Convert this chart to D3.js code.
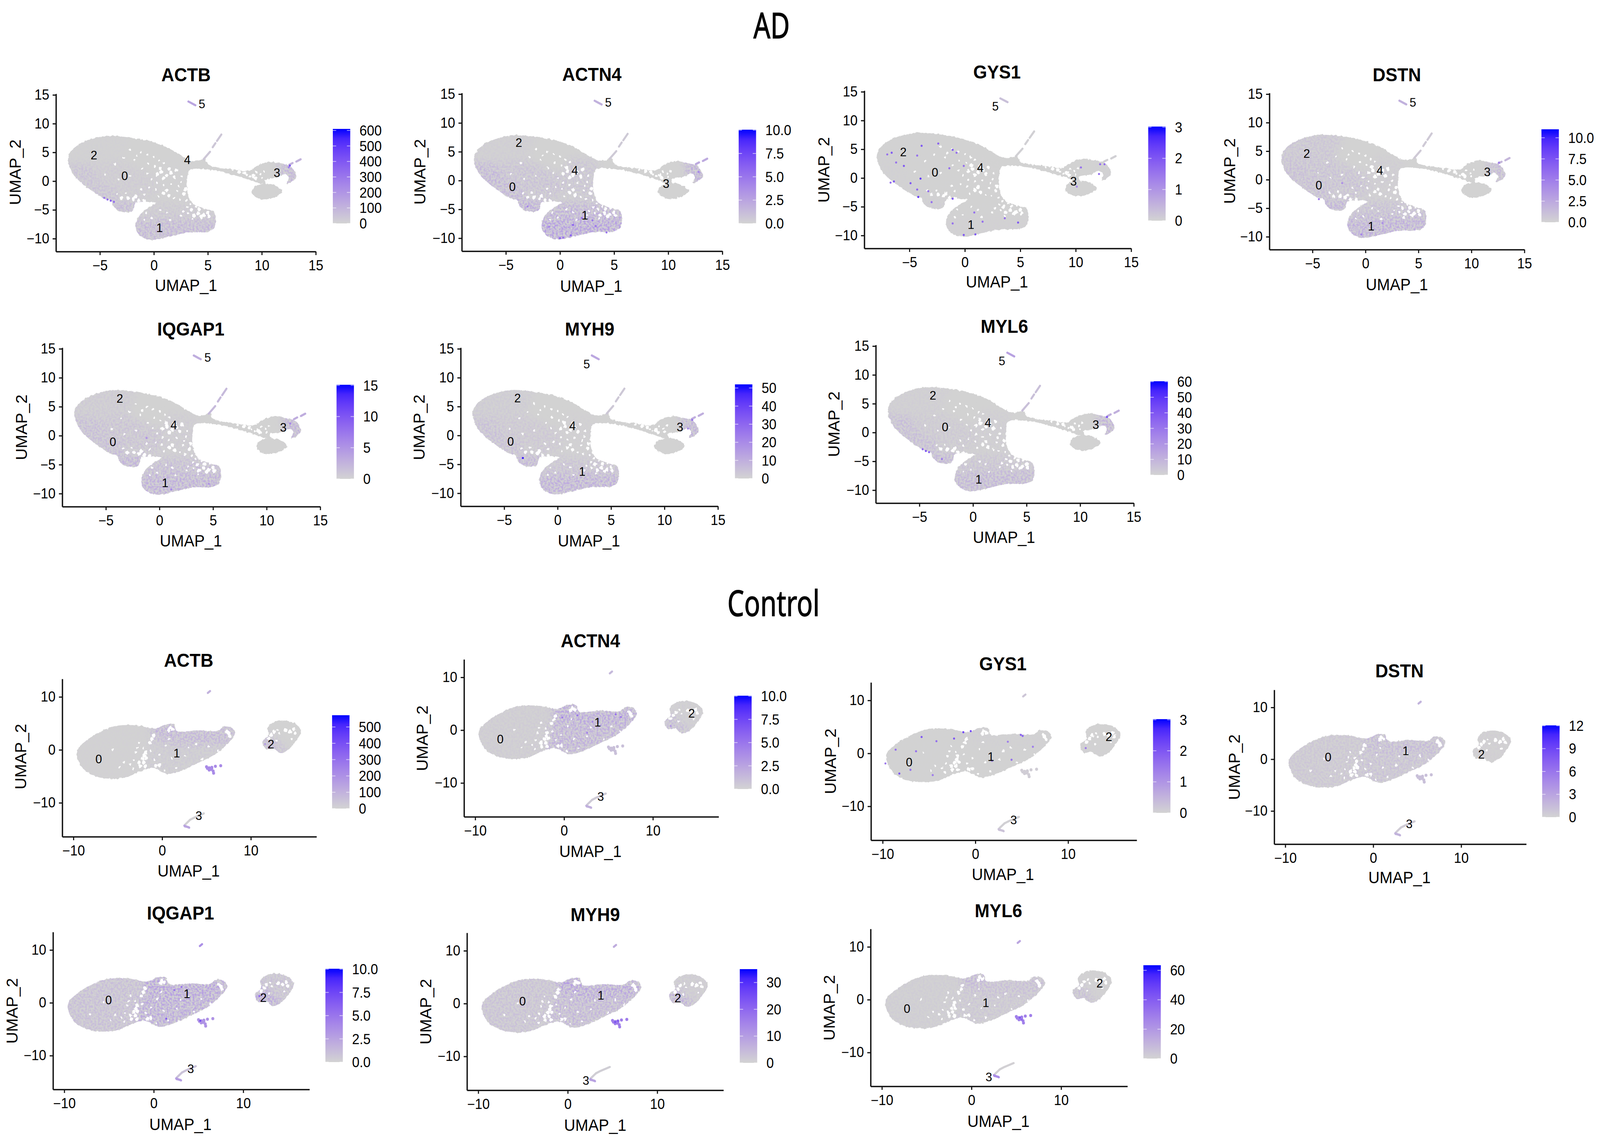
<!DOCTYPE html>
<html>
<head>
<meta charset="utf-8">
<script src="https://cdn.jsdelivr.net/npm/d3@7"></script>
<style>
  html, body { margin: 0; height: 100%; overflow: hidden; background: #fff; }
  #visualization { width: 100vw; height: 100vh; }
  svg { display: block; }
  text { font-family: "Liberation Sans", Arial, sans-serif; fill: #000; }
</style>
</head>
<body>
<div id="visualization"></div>
<script>
// ---------- data (UMAP units) ----------

const adXTicks = [-5, 0, 5, 10, 15];
const adYTicks = [-10, -5, 0, 5, 10, 15];
const adXDomain = [-9.07, 15.0];
const adYDomain = [-12.25, 15.2];
const ctrlXTicks = [-10, 0, 10];
const ctrlYTicks = [-10, 0, 10];
const ctrlXDomain = [-11.26, 17.4];
const ctrlYDomain = [-16.4, 13.4];

// main outline of the AD embedding
const adBody = [[-7.95,3.6],[-7.8,4.8],[-7.1,6.2],[-5.8,7.3],[-4.4,7.85],[-2.7,7.7],[-1,7.2],[0.4,6.5],[1.6,5.5],[2.6,4.35],
  [3.55,3.5],[4.3,3.6],[4.7,4.0],[5,2.9],[7.4,2.05],[8.85,1.8],[9.2,2.2],[9.8,2.9],[10.8,3.35],[11.75,3.05],[12.7,2.5],
  [13.2,0.8],[12.9,0.1],[12.3,-0.4],[12.5,0.6],[12.2,1.2],[11.3,0.6],[10.3,0.2],[10.4,-0.5],[9.8,-0.4],[8.9,0.2],
  [7.4,1.05],[5.5,1.9],[3.3,1.9],[3.1,0.5],[3.1,-1.8],[3.55,-3.8],[4.75,-4.8],[5.6,-5.4],[5.6,-8.1],[5,-8.8],[3.1,-8.95],
  [1.4,-9.65],[-0.3,-10.2],[-1.25,-9.5],[-1.7,-8.1],[-1.4,-6.1],[-0.5,-4.65],[0.2,-3.8],[-1.25,-3.65],[-1.7,-3.8],[-2,-5.2],
  [-3.2,-5.2],[-3.8,-4.2],[-3.9,-3.5],[-4.6,-3.05],[-6.1,-1.2],[-7.3,0.77],[-7.75,2.2]];
const adEllipse = [[9.05,-1.9],[9.3,-1],[9.9,-0.55],[10.7,-0.5],[11.4,-0.9],[11.9,-1.8],[11.4,-2.6],[10.4,-3.15],[9.5,-2.85]];

// gaps between the cells
const adHoles = [[0.3,1.2],[0.7,1.6],[1.2,1.0],[1.6,1.5],[1.9,0.7],[0.9,0.5],[1.4,2.1],[0.6,2.2],[2.1,1.9],[1.2,-1.6],[0.9,-2.1],
  [1.4,-2.5],[2.9,-1.4],[2.8,-2.2],[-1.9,-3.1],[-2.4,-2.9],[-1.4,-3.4],[-3,-2.9],[-0.9,-3.5],[-1.7,-2.7],[4.1,-5.6],[4.6,-5.9],
  [5.0,-5.5],[4.4,-6.2],[5.1,-6.1],[3.7,-6.0],[3.5,-5.0],[4.2,-4.9],[9.2,0.9],[9.4,0.5],[8.4,1.4],[7.9,1.6]];
const adSpeckles = [[-1.2,5.0],[-0.6,4.6],[0,4.2],[0.5,3.6],[0.9,3.2],[-1.8,3.6],[-0.5,3.1],[0.1,2.6],[-1.1,2.2],[-0.6,1.3],[-0.2,0.4],
  [0.3,-0.3],[0.9,-0.7],[1.6,-0.4],[2.3,-0.9],[-0.4,-1.1],[0.2,-1.5],[-0.9,-2.3],[0.4,-2.7],[1.9,-2.9],[2.2,-1.7],[2.5,-0.2],[2.6,0.8],
  [2.4,-3.2],[3,-3.4],[3.4,-4],[3.8,-3.9],[3.1,-4.6],[3.9,-4.4],[4.7,-4.8],[2.7,-5.3],[3.2,-5.6],[2.5,-6],[3.6,-6.6],[-3.6,3],[-2.8,4.1],
  [-2.2,5.5],[-1.6,4.4],[-4.5,1.2],[-3.3,0.3],[-2.2,0.9],[1.5,-6.8],[-0.7,-5.5],[-0.2,-6.4],[-0.9,-6.8],[0.6,-5],[1.2,-5.5],[6.8,2.3],
  [7.3,1.9],[8.2,1.9],[8.6,1.1],[9.5,1.6],[8.9,0.8],[9.9,1.2],[10,0.6],[10.2,1.7],[-2.6,-2.1],[-3.4,-2.2],[-1.2,-1.4],[11.9,0.4],[-4.1,-3.4]];

// tint regions of the AD embedding; the level lists below follow this order
const adRegionShapes = [
  [[-8.4,3.2],[-7.4,-0.3],[-5.4,-3],[-3.8,-3.8],[-3,-2],[-5,0],[-6,3]],                       // left rim
  [[-4.3,-3.4],[-1.3,-3.4],[-1.3,-5.8],[-4.3,-5.8]],                                           // small lobe
  [[-6,3],[-5,0],[-3,-2],[-1,-3.5],[0.5,-2],[0,1],[-3,3.5]],                                   // middle of 0
  [[-2.2,-6.8],[-2.2,-10.8],[6.2,-10.4],[6.2,-6.6],[2,-6.6]],                                  // lower band of 1
  [[-1.8,-6.8],[0,-3.6],[3.2,-3.9],[6,-5],[6.2,-6.6],[2,-6.6]],                                // upper part of 1
  [[11.4,3.6],[13.7,3.6],[13.7,-0.8],[11.8,-0.8],[11.7,1.5]],                                  // right tip of 3
  [[-8.4,3.2],[-6,3],[-3,3.5],[-2,8.4],[-8.4,8.4]],                                            // upper part of 2
  [[0,1],[0.5,-2],[3.4,-3.8],[3.6,3.4],[1,4.2]]                                                // centre near 4
];
// thin strands: points, then index of the level they take
const adStrands = [
  [[[4.6,3.8],[5.2,5.1]], 8], [[[5.45,5.9],[5.7,6.6]], 8], [[[5.85,7.0],[6.25,8.1]], 8],
  [[[12.55,2.85],[12.85,3.15]], 5], [[[13.2,3.4],[13.6,3.8]], 5],
  [[[3.2,13.85],[3.85,13.2]], 9]
];

// levels: left rim, lobe, middle, lower band, upper 1, tip 3, upper 2, centre, branch, cluster 5
const adActbLevels = [60, 90, 28, 100, 36, 100, 10, 8, 40, 150];
const adActn4Levels = [1.7, 2.4, 1.0, 2.9, 1.9, 2.2, 0.3, 0.8, 0.5, 1.8];
const adGys1Levels = [0.05, 0.08, 0.02, 0.04, 0.02, 0.05, 0.02, 0.01, 0.05, 0.3];
const adDstnLevels = [1.4, 2.1, 1.1, 2.3, 1.3, 1.6, 0.9, 0.4, 0.5, 2];
const adIqgap1Levels = [2.0, 3.0, 1.4, 3.0, 2.0, 3.0, 0.8, 0.6, 2, 3];
const adMyh9Levels = [6, 9, 3.5, 11, 5, 10, 2.5, 1, 3, 12];
const adMyl6Levels = [8, 10, 3.5, 10, 5, 11, 2, 2, 6, 16];

// single bright cells: x, y, value
const adActbCells = [[-4.6,-2.9,300],[-4.3,-3.2,340],[-4,-3.4,380],[-3.7,-3.6,330],[12.6,2.7,420],[12.5,2.4,260]];
const adActn4Cells = [[0,-10,6],[1.2,-7.7,6],[3.3,-7.9,5],[3,-6.9,5],[2,-6.5,5],[1,-9.5,6],[0.3,-9.9,5],[-3,-4.5,4],[4.3,-9,5],[12.8,1.5,4],[-1,-8,4]];
const adGys1Cells = [[-3.9,5.6,2],[-1.1,4.9,2],[-2.4,6,1.8],[-6.6,4.4,2],[-7,4.1,1.6],[-4.3,3.9,1.6],[-5.5,2.1,2],[-6.2,2.7,1.6],[-4,-0.1,2.4],
  [-6.4,-0.6,2],[-6.7,-0.8,1.6],[-4.9,-0.9,2],[-3.3,-2.3,1.6],[-4.2,-3.3,2.4],[-4.3,-2,1.8],[-3,-4.2,1.6],[-1.1,-3.6,2],[0.85,-6,1.6],[-1.1,-7.9,1.6],
  [-0.1,-9.9,2],[0.95,-9.8,2],[1.6,-7.6,1.6],[-1.4,1.7,1.6],[-0.1,2.1,1.6],[-0.75,4.4,1.6],[4.8,-7.75,2],[3.6,-7,1.6],[10.47,1.84,1.6],[12.2,2.4,1.6],
  [12.6,2.4,1.6],[12.1,0.7,1.6],[10.1,-1.5,1.2]];
const adDstnCells = [[-4.4,-3.4,5],[-2.2,-0.6,4],[1.6,-7.6,4],[-0.4,-9.6,4.5],[12.6,3,5]];
const adIqgap1Cells = [[-1.2,-0.4,5],[1.1,-9.3,6],[4.6,-8.3,5],[12.2,2.1,6]];
const adMyh9Cells = [[-3.25,-3.9,48],[12.6,2.7,26],[12.2,1.2,20]];
const adMyl6Cells = [[-4.7,-2.9,34],[-4.4,-3.2,40],[-4.1,-3.4,36],[12.5,2.7,42],[-2.9,-4.6,28]];

// cluster labels: x, y, text
const adActbLabels = [[-5.55,4.6,"2"],[-2.7,1.0,"0"],[3.1,3.75,"4"],[11.4,1.5,"3"],[0.53,-8.1,"1"],[4.45,13.5,"5"]];
const adActn4Labels = [[-3.8,6.6,"2"],[-4.4,-1,"0"],[1.37,1.8,"4"],[9.8,-0.5,"3"],[2.3,-6,"1"],[4.46,13.6,"5"]];
const adGys1Labels = [[-5.55,4.6,"2"],[-2.7,1.03,"0"],[1.4,1.86,"4"],[9.8,-0.55,"3"],[0.55,-8.1,"1"],[2.75,12.55,"5"]];
const adDstnLabels = [[-5.55,4.6,"2"],[-4.4,-0.95,"0"],[1.36,1.7,"4"],[11.5,1.43,"3"],[0.54,-8.1,"1"],[4.47,13.57,"5"]];
const adIqgap1Labels = [[-3.7,6.47,"2"],[-4.35,-1.03,"0"],[1.34,1.9,"4"],[11.55,1.47,"3"],[0.53,-8.1,"1"],[4.5,13.55,"5"]];
const adMyh9Labels = [[-3.75,6.5,"2"],[-4.4,-1,"0"],[1.4,1.7,"4"],[11.45,1.5,"3"],[2.3,-6.2,"1"],[2.72,12.4,"5"]];
const adMyl6Labels = [[-3.74,6.5,"2"],[-2.6,1,"0"],[1.4,1.78,"4"],[11.46,1.44,"3"],[0.53,-8.08,"1"],[2.7,12.47,"5"]];

// outline of the control embedding
const ctrlBody = [[-9.6,-1.1],[-9.5,0.15],[-8.6,1.7],[-7.15,3.25],[-5.4,4.45],[-3.05,4.65],[-0.7,4.05],[0.45,4.8],[1.35,4.75],[1.65,3.55],
  [4,3.7],[6.3,3.6],[6.9,4.35],[7.8,4.2],[8.2,3.1],[7.5,1.4],[6,-0.8],[4,-2.5],[2.2,-3.9],[0.6,-4.55],[-1,-3.4],[-2.75,-4.2],[-3.9,-5.1],
  [-5.7,-5.45],[-7.45,-5],[-8.9,-3.55]];
const ctrlBlob = [[11.9,4.2],[12.75,5.3],[13.95,5.5],[15.1,4.8],[15.65,3.55],[15.1,1.7],[14.2,0],[13.35,-0.6],[12.5,0.3],[11.75,0.15],[11.3,1.55],[12,2.8]];

const ctrlHoles = [[-2,-1.1],[-1.9,-0.5],[-2.2,-1.7],[-1.8,-1.6],[-2.6,-2.4],[-2.1,-2.4],[-1.9,-3.1],[-2.5,-3.1],[-0.7,-3],[-0.3,-2.9],[-1.15,2],[-1.4,1.3],
  [-1.0,2.7],[0.75,3.7],[1.2,3.9],[0.9,4.2],[7.5,3.1],[7.6,2.65],[7.3,3.5],[12.3,2.8],[12.0,2.2],[12.6,3.4],[13.9,3.7],[14.8,3.9],[14.4,3.4],[15,3.2]];
const ctrlSpeckles = [[-3.2,-1.9],[-3.6,-2.8],[-4.3,-2.3],[-3,-0.5],[-3.3,-3.6],[-2.8,0.4],[-4.8,-3.3],[-1.3,-0.2],[-0.9,-1.9],[-0.3,-0.9],[0.3,-3.9],[1.6,-3.4],
  [1.1,-1.6],[0.4,0.8],[2.6,-1.1],[3,0.5],[0.8,2.1],[3.8,1.1],[5.3,0.7],[6.3,-0.2],[-5.6,0.1],[-7.1,-2.2],[-2.1,0.3],[-2.6,1.4],[13,3.8],[13.2,3.1],[12.9,1.7],[14.6,2.1],[4.5,-1.7]];

// levels: left body, top of 1, rest of 1, notch, blob left, blob rest, small group, top dot, tail, tail end
const ctrlRegionShapes = [
  [[-10.5,6],[-1.5,6],[-1.8,-6],[-10.5,-6]],
  [[-1.5,4.3],[0,3],[1.8,3.7],[8.5,4.6],[8,1.2],[2,0.8],[-1,1.8]],
  [[-1.5,1.8],[2,0.8],[8,1.2],[6,-2],[1,-5],[-2,-4.6]],
  [[-1,5.2],[1.8,5.2],[1.8,3.6],[0,3],[-1.2,3.8]],
  [[10.9,3],[12.3,3],[13.8,0.5],[14.5,-1],[11.3,-1]],
  [[11.5,6],[16,6],[16,0],[14.5,-1],[13.8,0.5],[12.3,3],[11,3]]
];
const ctrlSmallGroup = [[5,-3.2],[5.1,-3.5],[5.3,-3.4],[5.3,-3.8],[5.6,-3.3],[5.5,-3.7],[5.6,-3.5],[5.75,-4.0],[6,-3.1],[6.6,-3],[5.8,-4.4]];
const ctrlStrands = [
  [[[5.15,10.75],[5.4,11.1]], 7],
  [[[3.15,-13.2],[3.6,-12.8],[4.7,-12]], 8], [[[2.6,-14.1],[3.15,-13.2]], 8],
  [[[2.5,-14.3],[3.05,-14.7]], 9], [[[2.55,-14.45],[3.0,-14.6]], 9]
];
const ctrlActbLevels = [8, 100, 28, 120, 70, 4, 220, 100, 5, 140];
const ctrlActn4Levels = [0.4, 2.5, 2.0, 2.6, 1.4, 0.3, 1.0, 1.4, 0.5, 1.8];
const ctrlGys1Levels = [0.02, 0.05, 0.02, 0.08, 0.05, 0.01, 0.1, 0.2, 0.05, 0.25];
const ctrlDstnLevels = [0.9, 1.7, 1.2, 1.9, 0.3, 0.3, 1.2, 2, 0.5, 2];
const ctrlIqgap1Levels = [1.2, 2.8, 2.4, 2.9, 2.8, 1.0, 3.4, 3.6, 0.9, 2.8];
const ctrlMyh9Levels = [3.5, 9, 6, 11, 7, 1.6, 16, 7, 1, 9];
const ctrlMyl6Levels = [2.5, 8, 4.5, 12, 7, 1, 28, 15, 1, 24];

const ctrlActbCells = [[12,0.5,240],[11.6,1.1,160]];
const ctrlActn4Cells = [[1.5,2.8,5],[5.8,3,5],[6.4,2.5,4.5],[2.6,-0.5,4],[-0.2,2.4,4.5],[3.2,1.6,4],[12,0.8,3]];
const ctrlGys1Cells = [[-8.6,0.7,1.6],[-5.8,3.1,2],[-6.4,0.4,1.6],[-2.3,2.8,2],[-1.3,4,2.2],[-7,-3.1,1.6],[-8.2,-3.8,2],[-9.7,-1.9,1.4],[-4.6,-4.1,1.4],
  [-4.2,2.3,1.6],[4.9,3.5,1.8],[3.5,2.2,1.4],[6.2,1.25,1.4],[5.1,3.3,1.8],[3.9,-1.2,1.6],[11.9,1,1.4],[-0.5,4.2,2.2],[1.8,-1.4,1.4]];
const ctrlIqgap1Cells = [[1.4,-3,6],[3.1,3,5],[5.2,-3.4,7],[11.8,1.3,5.5],[2.3,2.4,5]];
const ctrlMyh9Cells = [[5.3,-3.5,24],[5.6,-3.3,22]];
const ctrlMyl6Cells = [[5.4,-3.4,42],[5.6,-3.8,36]];

const ctrlActbLabels = [[-7.15,-1.65,"0"],[1.64,-0.56,"1"],[12.27,1.09,"2"],[4.13,-12.4,"3"]];
const ctrlActn4Labels = [[-7.18,-1.63,"0"],[3.78,1.54,"1"],[14.35,3.25,"2"],[4.12,-12.5,"3"]];
const ctrlGys1Labels = [[-7.14,-1.63,"0"],[1.67,-0.6,"1"],[14.4,3.17,"2"],[4.13,-12.5,"3"]];
const ctrlDstnLabels = [[-5.13,0.46,"0"],[3.7,1.7,"1"],[12.3,1,"2"],[4.1,-12.46,"3"]];
const ctrlIqgap1Labels = [[-5.05,0.57,"0"],[3.7,1.72,"1"],[12.25,1.05,"2"],[4.13,-12.44,"3"]];
const ctrlMyh9Labels = [[-5.05,0.5,"0"],[3.7,1.6,"1"],[12.3,1.1,"2"],[2.03,-14.55,"3"]];
const ctrlMyl6Labels = [[-7.2,-1.66,"0"],[1.6,-0.54,"1"],[14.3,3.17,"2"],[1.93,-14.6,"3"]];

// legends: top of the bar and labelled values
const adGenes = ["ACTB", "ACTN4", "GYS1", "DSTN", "IQGAP1", "MYH9", "MYL6"];
const adLegendMax = [610, 10.05, 3.02, 11, 15.1, 52, 60.3];
const adLegendTicks = [[0,100,200,300,400,500,600],[0,2.5,5,7.5,10],[0,1,2,3],[0,2.5,5,7.5,10],[0,5,10,15],[0,10,20,30,40,50],[0,10,20,30,40,50,60]];
const ctrlLegendMax = [572, 10.05, 3.02, 12.05, 10.05, 35, 63.5];
const ctrlLegendTicks = [[0,100,200,300,400,500],[0,2.5,5,7.5,10],[0,1,2,3],[0,3,6,9,12],[0,2.5,5,7.5,10],[0,10,20,30],[0,20,40,60]];

// ---------- layout, pixels ----------
const svgWidth = 4317;
const svgHeight = 2921;

// l,r,t,b = axes box; bx,bt,bb = colour bar; tx,ty = title; lx,ly = UMAP_1; yx,yy = UMAP_2
const adBoxes = [
  {l:151,r:852,t:240,b:644,bx:898,bt:330,bb:572,tx:502,ty:191,lx:502,ly:730,yx:41,yy:441},
  {l:1246,r:1949,t:238,b:643,bx:1993,bt:332,bb:572,tx:1597,ty:190,lx:1595,ly:732,yx:1133,yy:440},
  {l:2332,r:3052,t:232,b:636,bx:3098,bt:324,bb:565,tx:2690,ty:184,lx:2690,ly:721,yx:2222,yy:435},
  {l:3425,r:4113,t:238,b:639,bx:4159,bt:331,bb:569,tx:3769,ty:191,lx:3769,ly:728,yx:3317,yy:438},
  {l:168,r:864,t:890,b:1297,bx:908,bt:985,bb:1226,tx:515,ty:842,lx:515,ly:1384,yx:58,yy:1094},
  {l:1243,r:1937,t:890,b:1296,bx:1983,bt:984,bb:1225,tx:1591,ty:842,lx:1589,ly:1384,yx:1130,yy:1094},
  {l:2363,r:3059,t:883,b:1288,bx:3104,bt:976,bb:1216,tx:2710,ty:835,lx:2709,ly:1375,yx:2250,yy:1086}
];
const ctrlBoxes = [
  {l:168,r:854,t:1738,b:2142,bx:896,bt:1831,bb:2070,tx:509,ty:1690,lx:509,ly:2229,yx:56,yy:1937},
  {l:1252,r:1939,t:1688,b:2091,bx:1981,bt:1781,bb:2020,tx:1593,ty:1640,lx:1593,ly:2179,yx:1139,yy:1890},
  {l:2350,r:3067,t:1747,b:2151,bx:3111,bt:1841,bb:2081,tx:2706,ty:1699,lx:2706,ly:2238,yx:2240,yy:1949},
  {l:3438,r:4118,t:1766,b:2161,bx:4161,bt:1857,bb:2092,tx:3776,ty:1717,lx:3776,ly:2246,yx:3330,yy:1964},
  {l:143,r:835,t:2386,b:2789,bx:878,bt:2480,bb:2719,tx:487,ty:2337,lx:487,ly:2878,yx:32,yy:2588},
  {l:1260,r:1952,t:2388,b:2791,bx:1996,bt:2481,bb:2721,tx:1606,ty:2341,lx:1606,ly:2880,yx:1148,yy:2590},
  {l:2349,r:3042,t:2378,b:2781,bx:3085,bt:2471,bb:2710,tx:2694,ty:2331,lx:2694,ly:2870,yx:2237,yy:2580}
];
const barWidth = 47;

// the viewBox keeps everything on the page whatever the window really gives
const svg = d3.select("#visualization").append("svg")
  .attr("width", "100%")
  .attr("height", "100%")
  .attr("viewBox", `0 0 ${svgWidth} ${svgHeight}`)
  .attr("preserveAspectRatio", "none");
const defs = svg.append("defs");

// rough edge of the cell cloud
const rough = defs.append("filter").attr("id", "rough")
  .attr("x", "-3%").attr("y", "-3%").attr("width", "106%").attr("height", "106%");
rough.append("feTurbulence").attr("type", "fractalNoise").attr("baseFrequency", 0.14)
  .attr("numOctaves", 2).attr("seed", 7).attr("result", "n");
rough.append("feDisplacementMap").attr("in", "SourceGraphic").attr("in2", "n")
  .attr("scale", 7).attr("xChannelSelector", "R").attr("yChannelSelector", "G");

// single-cell grain of the coloured areas
const grain = defs.append("filter").attr("id", "grain")
  .attr("x", "-5%").attr("y", "-5%").attr("width", "110%").attr("height", "110%");
grain.append("feGaussianBlur").attr("in", "SourceGraphic").attr("stdDeviation", 10).attr("result", "soft");
grain.append("feTurbulence").attr("type", "fractalNoise").attr("baseFrequency", 0.2)
  .attr("numOctaves", 2).attr("seed", 3).attr("result", "n");
grain.append("feColorMatrix").attr("in", "n").attr("type", "matrix")
  .attr("values", "0 0 0 0 0  0 0 0 0 0  0 0 0 0 0  3 0 0 0 -1.05").attr("result", "a");
grain.append("feComposite").attr("in", "soft").attr("in2", "a").attr("operator", "in");

const outline = d3.line().curve(d3.curveCatmullRomClosed.alpha(0.5));
const strandLine = d3.line().curve(d3.curveLinear);

function drawPanel(p, id) {
  const box = p.box;
  const x = d3.scaleLinear(p.xDomain, [box.l, box.r]);
  const y = d3.scaleLinear(p.yDomain, [box.b, box.t]);
  const color = d3.scaleLinear([0, p.legendMax], ["#d3d3d3", "#0000ff"]).interpolate(d3.interpolateLab);
  const g = svg.append("g").attr("class", "panel");
  const toPx = pts => pts.map(d => [x(d[0]), y(d[1])]);

  // cell cloud
  const cloud = g.append("g").attr("filter", "url(#rough)");
  cloud.selectAll("path").data(p.shapes).enter().append("path")
    .attr("d", d => outline(toPx(d)))
    .attr("fill", "#d2d2d2");

  // tinted regions, clipped to the cloud
  const clip = defs.append("clipPath").attr("id", "clip" + id);
  clip.selectAll("path").data(p.shapes).enter().append("path").attr("d", d => outline(toPx(d)));
  g.append("g").attr("clip-path", `url(#clip${id})`)
    .append("g").attr("filter", "url(#grain)")
    .selectAll("path").data(p.regions).enter().append("path")
    .attr("d", d => "M" + toPx(d).join("L") + "Z")
    .attr("fill", (d, i) => color(p.levels[i]));

  // gaps
  const gaps = g.append("g").attr("filter", "url(#rough)");
  gaps.selectAll(".hole").data(p.holes).enter().append("circle")
    .attr("class", "hole")
    .attr("cx", d => x(d[0])).attr("cy", d => y(d[1])).attr("r", 4.6)
    .attr("fill", "#fff");
  gaps.selectAll(".speckle").data(p.speckles).enter().append("circle")
    .attr("class", "speckle")
    .attr("cx", d => x(d[0])).attr("cy", d => y(d[1])).attr("r", 2.6)
    .attr("fill", "#fff");

  // small group of the control maps
  g.selectAll(".small").data(p.smallGroup).enter().append("circle")
    .attr("class", "small")
    .attr("cx", d => x(d[0])).attr("cy", d => y(d[1])).attr("r", 4)
    .attr("fill", color(p.levels[6]));

  // thin strands
  g.selectAll(".strand").data(p.strands).enter().append("path")
    .attr("class", "strand")
    .attr("d", d => strandLine(toPx(d[0])))
    .attr("fill", "none")
    .attr("stroke", d => color(p.levels[d[1]]))
    .attr("stroke-width", 5.5)
    .attr("stroke-linecap", "round");

  // bright single cells
  g.selectAll(".cell").data(p.cells).enter().append("circle")
    .attr("class", "cell")
    .attr("cx", d => x(d[0])).attr("cy", d => y(d[1])).attr("r", 2.7)
    .attr("fill", d => color(d[2]));

  // axes
  const xAxis = d3.axisBottom(x).tickValues(p.xTicks).tickSize(9).tickSizeOuter(0).tickPadding(13);
  const yAxis = d3.axisLeft(y).tickValues(p.yTicks).tickSize(9).tickSizeOuter(0).tickPadding(9);
  const xg = g.append("g").attr("transform", `translate(0,${box.b})`).call(xAxis);
  const yg = g.append("g").attr("transform", `translate(${box.l},0)`).call(yAxis);
  [xg, yg].forEach(a => {
    a.selectAll("text").style("font-size", "36px").style("font-family", "Liberation Sans");
    a.selectAll("line").attr("stroke", "#111").attr("stroke-width", 3);
    a.select(".domain").attr("stroke", "#111").attr("stroke-width", 3.6);
  });

  // cluster labels
  g.selectAll(".cluster").data(p.labels).enter().append("text")
    .attr("class", "cluster")
    .attr("x", d => x(d[0])).attr("y", d => y(d[1])).attr("dy", "0.36em")
    .attr("text-anchor", "middle")
    .style("font-size", "32px")
    .text(d => d[2]);

  // titles
  g.append("text").attr("x", box.tx).attr("y", box.ty).attr("dy", "0.36em")
    .attr("text-anchor", "middle").style("font-size", "48px").style("font-weight", "bold")
    .text(p.gene);
  g.append("text").attr("x", box.lx).attr("y", box.ly).attr("dy", "0.36em")
    .attr("text-anchor", "middle").style("font-size", "42px")
    .text("UMAP_1");
  g.append("text").attr("transform", `translate(${box.yx},${box.yy}) rotate(-90)`).attr("dy", "0.36em")
    .attr("text-anchor", "middle").style("font-size", "42px")
    .text("UMAP_2");

  // colour bar
  const grad = defs.append("linearGradient").attr("id", "bar" + id)
    .attr("x1", 0).attr("x2", 0).attr("y1", 1).attr("y2", 0);
  d3.range(0, 1.001, 0.1).forEach(t => {
    grad.append("stop").attr("offset", t).attr("stop-color", color(t * p.legendMax));
  });
  g.append("rect").attr("x", box.bx).attr("y", box.bt)
    .attr("width", barWidth).attr("height", box.bb - box.bt)
    .attr("fill", `url(#bar${id})`);
  const barScale = d3.scaleLinear([0, p.legendMax], [box.bb, box.bt]);
  const fmt = p.legendTicks.some(t => t % 1) ? d3.format(".1f") : d3.format("d");
  const tick = g.selectAll(".legendTick").data(p.legendTicks).enter().append("g")
    .attr("class", "legendTick")
    .attr("transform", d => `translate(0,${barScale(d)})`);
  tick.append("line").attr("x1", box.bx).attr("x2", box.bx + 9).attr("stroke", "#fff").attr("stroke-opacity", 0.6).attr("stroke-width", 2);
  tick.append("line").attr("x1", box.bx + barWidth - 9).attr("x2", box.bx + barWidth).attr("stroke", "#fff").attr("stroke-opacity", 0.6).attr("stroke-width", 2);
  tick.append("text").attr("x", box.bx + barWidth + 25).attr("y", 0).attr("dy", "0.36em")
    .style("font-size", "36px")
    .text(d => fmt(d));
}

const adLevels = [adActbLevels, adActn4Levels, adGys1Levels, adDstnLevels, adIqgap1Levels, adMyh9Levels, adMyl6Levels];
const adCells = [adActbCells, adActn4Cells, adGys1Cells, adDstnCells, adIqgap1Cells, adMyh9Cells, adMyl6Cells];
const adLabels = [adActbLabels, adActn4Labels, adGys1Labels, adDstnLabels, adIqgap1Labels, adMyh9Labels, adMyl6Labels];
const ctrlLevels = [ctrlActbLevels, ctrlActn4Levels, ctrlGys1Levels, ctrlDstnLevels, ctrlIqgap1Levels, ctrlMyh9Levels, ctrlMyl6Levels];
const ctrlCells = [ctrlActbCells, ctrlActn4Cells, ctrlGys1Cells, [], ctrlIqgap1Cells, ctrlMyh9Cells, ctrlMyl6Cells];
const ctrlLabels = [ctrlActbLabels, ctrlActn4Labels, ctrlGys1Labels, ctrlDstnLabels, ctrlIqgap1Labels, ctrlMyh9Labels, ctrlMyl6Labels];

adGenes.forEach((gene, i) => {
  drawPanel({
    gene, box: adBoxes[i], xDomain: adXDomain, yDomain: adYDomain, xTicks: adXTicks, yTicks: adYTicks,
    shapes: [adBody, adEllipse], regions: adRegionShapes, holes: adHoles, speckles: adSpeckles, smallGroup: [], strands: adStrands,
    levels: adLevels[i], cells: adCells[i], labels: adLabels[i], legendMax: adLegendMax[i], legendTicks: adLegendTicks[i]
  }, "a" + i);
  drawPanel({
    gene, box: ctrlBoxes[i], xDomain: ctrlXDomain, yDomain: ctrlYDomain, xTicks: ctrlXTicks, yTicks: ctrlYTicks,
    shapes: [ctrlBody, ctrlBlob], regions: ctrlRegionShapes, holes: ctrlHoles, speckles: ctrlSpeckles, smallGroup: ctrlSmallGroup, strands: ctrlStrands,
    levels: ctrlLevels[i], cells: ctrlCells[i], labels: ctrlLabels[i], legendMax: ctrlLegendMax[i], legendTicks: ctrlLegendTicks[i]
  }, "c" + i);
});

// the two group headings
svg.append("text").attr("transform", "translate(2082,98) scale(0.78,1)")
  .attr("text-anchor", "middle")
  .style("font-family", "Noto Sans").style("font-size", "92px")
  .style("stroke", "#000").style("stroke-width", 1.5)
  .text("AD");
svg.append("text").attr("transform", "translate(2087,1577) scale(0.78,1)")
  .attr("text-anchor", "middle")
  .style("font-family", "Noto Sans").style("font-size", "92px")
  .style("stroke", "#000").style("stroke-width", 1.5)
  .text("Control");
</script>
</body>
</html>
